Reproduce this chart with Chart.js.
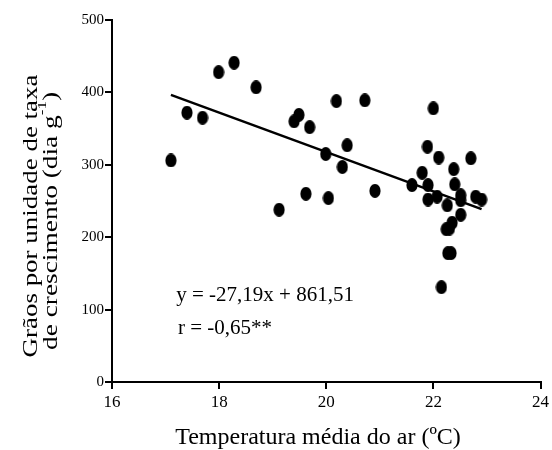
<!DOCTYPE html>
<html>
<head>
<meta charset="utf-8">
<script src="https://cdn.jsdelivr.net/npm/chart.js@4"></script>
<style>
  html, body { margin: 0; padding: 0; background: #fff; }
  #wrap { width: 552px; height: 450px; }
  .preload { font-family: "Liberation Serif"; position: absolute; left: -999px; }
</style>
</head>
<body>
<span class="preload">Grãos 0123</span>
<div id="wrap"><canvas id="chart" width="552" height="450"></canvas></div>
<script>
// temperatura média do ar (ºC) e grãos por unidade de taxa de crescimento
const tempX = [17.10, 17.40, 17.69, 17.99, 18.28, 18.69, 19.12, 19.40, 19.49, 19.69,
  19.62, 19.99, 20.04, 20.19, 20.30, 20.39, 20.72, 20.91, 21.60, 21.79,
  21.89, 21.90, 21.90, 22.00, 22.07, 22.10, 22.38, 22.40, 22.70, 22.26,
  22.51, 22.51, 22.79, 22.90, 22.51, 22.35, 22.24, 22.30, 22.27, 22.33, 22.15];
const graosY = [306, 372, 365, 428, 441, 407, 238, 360, 369, 352,
  260, 315, 254, 388, 297, 327, 389, 264, 272, 289,
  325, 272, 252, 378, 256, 310, 294, 273, 309, 244,
  258, 251, 256, 252, 231, 220, 211, 212, 178, 178, 131];

// reta ajustada (extremos)
const trendX = [17.1, 22.9];
const trendY = [396.5, 238.8];

const xTicks = [16, 18, 20, 22, 24];
const yTicks = [0, 100, 200, 300, 400, 500];

const serif = '"Liberation Serif", "Times New Roman", serif';

// marcador elíptico preto
const dot = document.createElement("canvas");
dot.width = 12;
dot.height = 14;
const dctx = dot.getContext("2d");
dctx.fillStyle = "#000";
dctx.beginPath();
dctx.ellipse(6, 7, 5.6, 6.9, 0, 0, Math.PI * 2);
dctx.fill();

// texto girado, esticado até o comprimento pedido
function rotatedText(ctx, parts, cx, cy, len) {
  ctx.save();
  ctx.translate(cx, cy);
  ctx.rotate(-Math.PI / 2);
  ctx.textBaseline = "middle";
  ctx.textAlign = "left";
  let total = 0;
  parts.forEach((p) => {
    ctx.font = p.size + "px " + serif;
    p.w = ctx.measureText(p.t).width;
    total += p.w;
  });
  ctx.scale(len / total, 1);
  let x = -total / 2;
  parts.forEach((p) => {
    ctx.font = p.size + "px " + serif;
    ctx.fillText(p.t, x, p.dy || 0);
    x += p.w;
  });
  ctx.restore();
}

const textPlugin = {
  id: "textos",
  afterDraw(chart) {
    const ctx = chart.ctx;
    const xs = chart.scales.x;
    const ys = chart.scales.y;
    ctx.save();
    ctx.fillStyle = "#000";

    // equação e r
    ctx.font = "21px " + serif;
    ctx.textAlign = "left";
    ctx.textBaseline = "middle";
    ctx.fillText("y = -27,19x + 861,51", xs.getPixelForValue(17.2), ys.getPixelForValue(120));
    ctx.fillText("r = -0,65**", xs.getPixelForValue(17.23), ys.getPixelForValue(74));

    // título eixo x
    ctx.font = "24px " + serif;
    ctx.textAlign = "center";
    ctx.textBaseline = "alphabetic";
    ctx.fillText("Temperatura média do ar (ºC)", 318, 444);

    // título eixo y
    rotatedText(ctx, [{ t: "Grãos por unidade de taxa", size: 21 }], 31, 216, 283);
    rotatedText(ctx, [
      { t: "de crescimento (dia g", size: 21 },
      { t: "-1", size: 13, dy: -8 },
      { t: ")", size: 21 }
    ], 51, 221, 258);

    ctx.restore();
  }
};

function draw() {
  new Chart(document.getElementById("chart"), {
    type: "scatter",
    data: {
      datasets: [
        {
          label: "dados",
          data: tempX.map((x, i) => ({ x: x, y: graosY[i] })),
          pointStyle: dot,
          pointRadius: 7,
          pointHoverRadius: 7,
          order: 2
        },
        {
          type: "line",
          label: "reta",
          data: trendX.map((x, i) => ({ x: x, y: trendY[i] })),
          borderColor: "#000",
          borderWidth: 2.5,
          pointRadius: 0,
          fill: false,
          order: 1
        }
      ]
    },
    options: {
      responsive: false,
      animation: false,
      layout: { padding: { top: 20, right: 10, left: 0, bottom: 0 } },
      plugins: {
        legend: { display: false },
        tooltip: { enabled: false }
      },
      scales: {
        x: {
          type: "linear",
          min: 16,
          max: 24,
          afterBuildTicks: (s) => { s.ticks = xTicks.map((v) => ({ value: v })); },
          afterFit: (s) => { s.height = 68; },
          ticks: {
            color: "#000",
            font: { family: serif, size: 17 },
            padding: 3
          },
          grid: { drawOnChartArea: false, color: "#000", lineWidth: 2, tickLength: 7 },
          border: { color: "#000", width: 2 }
        },
        y: {
          type: "linear",
          min: 0,
          max: 500,
          afterBuildTicks: (s) => { s.ticks = yTicks.map((v) => ({ value: v })); },
          afterFit: (s) => { s.width = 112; },
          ticks: {
            color: "#000",
            font: { family: serif, size: 15 },
            padding: 1
          },
          grid: { drawOnChartArea: false, color: "#000", lineWidth: 2, tickLength: 7 },
          border: { color: "#000", width: 2 }
        }
      }
    },
    plugins: [textPlugin]
  });
}

document.fonts.load('20px "Liberation Serif"').then(draw, draw);
</script>
</body>
</html>
